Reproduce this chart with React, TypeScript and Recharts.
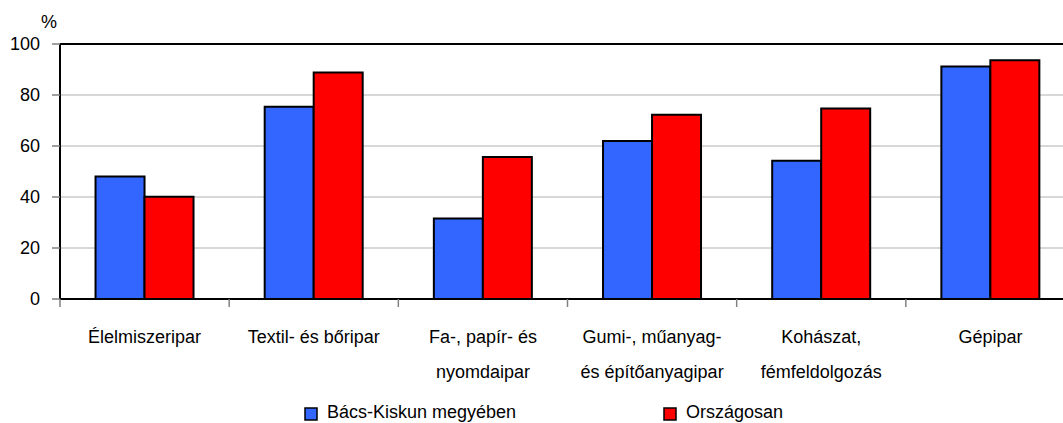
import React from 'react';
import { BarChart, Bar, XAxis, YAxis, CartesianGrid, ReferenceLine } from 'recharts';

const categories = [
  ['Élelmiszeripar'],
  ['Textil- és bőripar'],
  ['Fa-, papír- és', 'nyomdaipar'],
  ['Gumi-, műanyag-', 'és építőanyagipar'],
  ['Kohászat,', 'fémfeldolgozás'],
  ['Gépipar'],
];
const bacsKiskun = [48.0, 75.4, 31.6, 62.0, 54.2, 91.2];
const orszagosan = [40.1, 88.8, 55.7, 72.3, 74.7, 93.6];
const yTicks = [0, 20, 40, 60, 80, 100];
const seriesNames = ['Bács-Kiskun megyében', 'Országosan'];
const colors = ['#3366FF', '#FF0000'];

const data = categories.map((lines, i) => ({
  name: lines.join('\n'),
  b: bacsKiskun[i],
  o: orszagosan[i],
}));

const FONT = 'Arial, "Liberation Sans", sans-serif';

const CatTick = (props: any) => {
  const { x, y, payload } = props;
  const lines = String(payload.value).split('\n');
  const half = payload && typeof payload.offset === 'number' && payload.offset > 0 ? payload.offset : 0;
  return (
    <g>
      {half > 0 && <line x1={x - half} x2={x - half} y1={y} y2={y + 8} stroke="#808080" strokeWidth={1.5} />}
      {lines.map((l, i) => (
        <text key={i} x={x} y={y + 44 + i * 35} textAnchor="middle" fontSize={18} fontFamily={FONT} fill="#000">
          {l}
        </text>
      ))}
    </g>
  );
};

const PercentLabel = (props: any) => {
  const vb = props.viewBox || { x: 0, y: 44, width: 60 };
  return (
    <text x={vb.x + 49} y={vb.y - 16} textAnchor="middle" fontSize={18} fontFamily={FONT} fill="#000">
      %
    </text>
  );
};

export default function App() {
  return (
    <div style={{ position: 'absolute', left: 0, top: 0, width: 1063, height: 423, overflow: 'hidden', background: '#fff' }}>
      <BarChart
        width={1075}
        height={423}
        data={data}
        margin={{ top: 44, right: 0, bottom: 0, left: 0 }}
        barCategoryGap="21%"
        barGap={0}
      >
        <CartesianGrid vertical={false} stroke="#b0b0b0" strokeWidth={1} />
        <XAxis
          dataKey="name"
          height={124}
          interval={0}
          axisLine={{ stroke: '#000', strokeWidth: 2 }}
          tickLine={false}
          tickSize={0}
          tickMargin={0}
          tick={<CatTick />}
        />
        <YAxis
          width={60}
          domain={[0, 100]}
          ticks={yTicks}
          interval={0}
          axisLine={{ stroke: '#000', strokeWidth: 2 }}
          tickLine={{ stroke: '#808080', strokeWidth: 1.5 }}
          tickSize={8}
          tickMargin={12}
          tick={{ fontSize: 18, fontFamily: FONT, fill: '#000' }}
          label={<PercentLabel />}
        />
        <ReferenceLine y={100} stroke="#000" strokeWidth={2} />
        <Bar dataKey="b" name={seriesNames[0]} fill={colors[0]} stroke="#000" strokeWidth={2} isAnimationActive={false} />
        <Bar dataKey="o" name={seriesNames[1]} fill={colors[1]} stroke="#000" strokeWidth={2} isAnimationActive={false} />
      </BarChart>
      <svg width={1063} height={423} style={{ position: 'absolute', left: 0, top: 0, pointerEvents: 'none' }}>
        {seriesNames.map((n, i) => {
          const lx = i === 0 ? 305 : 664;
          return (
            <g key={n}>
              <rect x={lx} y={408} width={12} height={12} fill={colors[i]} stroke="#000" strokeWidth={1.5} />
              <text x={lx + 22} y={418} fontSize={18} fontFamily={FONT} fill="#000">
                {n}
              </text>
            </g>
          );
        })}
      </svg>
    </div>
  );
}
